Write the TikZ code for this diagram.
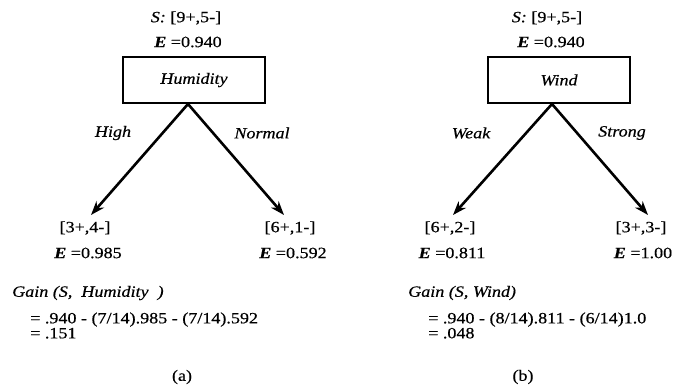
\documentclass[tikz,border=0pt]{standalone}
\usepackage{fontspec}
\setmainfont{Liberation Serif}[FakeStretch=1.15, FakeBold=0.5]
\usetikzlibrary{arrows.meta,positioning}

\begin{document}
\begin{tikzpicture}[x=1pt, y=-1pt,
    every node/.style={font=\fontsize{15.7}{15}\selectfont, inner sep=1pt},
    attr/.style={rectangle, draw, line width=1.8pt, minimum width=142pt, minimum height=46pt, font=\fontsize{15.7}{15}\selectfont\itshape},
    branch/.style={-{Stealth[length=14pt, width=10pt]}, line width=2.6pt},
    val/.style={font=\fontsize{15.7}{15}\selectfont\itshape},
    calc/.style={anchor=west, align=left}
]
\useasboundingbox (0,0) rectangle (673,388);

% (a) Humidity
\node (humS) at (186,18) {\textit{S:} [9+,5-]};
\node (humE) at (188,42) {\textbf{\textit{E}} =0.940};
\node[attr] (hum) at (194,80) {Humidity};
\coordinate (humTop) at (188,104);
\coordinate (tipHigh) at (91,215);
\coordinate (tipNormal) at (284,215);
\draw[branch] (humTop) -- (tipHigh);
\draw[branch] (humTop) -- (tipNormal);
\node[val] (high) at (113,133) {High};
\node[val] (normal) at (262,133) {Normal};
\node (highS) at (85,228) {[3+,4-]};
\node (highE) at (88,253) {\textbf{\textit{E}} =0.985};
\node (normalS) at (290,228) {[6+,1-]};
\node (normalE) at (293,253) {\textbf{\textit{E}} =0.592};
\node[val, anchor=west] (humGain) at (11,293) {Gain (S,~ Humidity~ )};
\node[calc] (humCalc) at (29,325.5) {= .940 - (7/14).985 - (7/14).592\\= .151};
\node (capA) at (182,377) {(a)};

% (b) Wind
\node (windS) at (547,18) {\textit{S:} [9+,5-]};
\node (windE) at (551,42) {\textbf{\textit{E}} =0.940};
\node[attr] (wind) at (559,80) {Wind};
\coordinate (windTop) at (552,104);
\coordinate (tipWeak) at (453,215);
\coordinate (tipStrong) at (648,215);
\draw[branch] (windTop) -- (tipWeak);
\draw[branch] (windTop) -- (tipStrong);
\node[val] (weak) at (471,133) {Weak};
\node[val] (strong) at (622,133) {Strong};
\node (weakS) at (450,228) {[6+,2-]};
\node (weakE) at (452,253) {\textbf{\textit{E}} =0.811};
\node (strongS) at (641,228) {[3+,3-]};
\node (strongE) at (643,253) {\textbf{\textit{E}} =1.00};
\node[val, anchor=west] (windGain) at (407,293) {Gain (S, Wind)};
\node[calc] (windCalc) at (427,325.5) {= .940 - (8/14).811 - (6/14)1.0\\= .048};
\node (capB) at (523,377) {(b)};

\end{tikzpicture}
\end{document}
